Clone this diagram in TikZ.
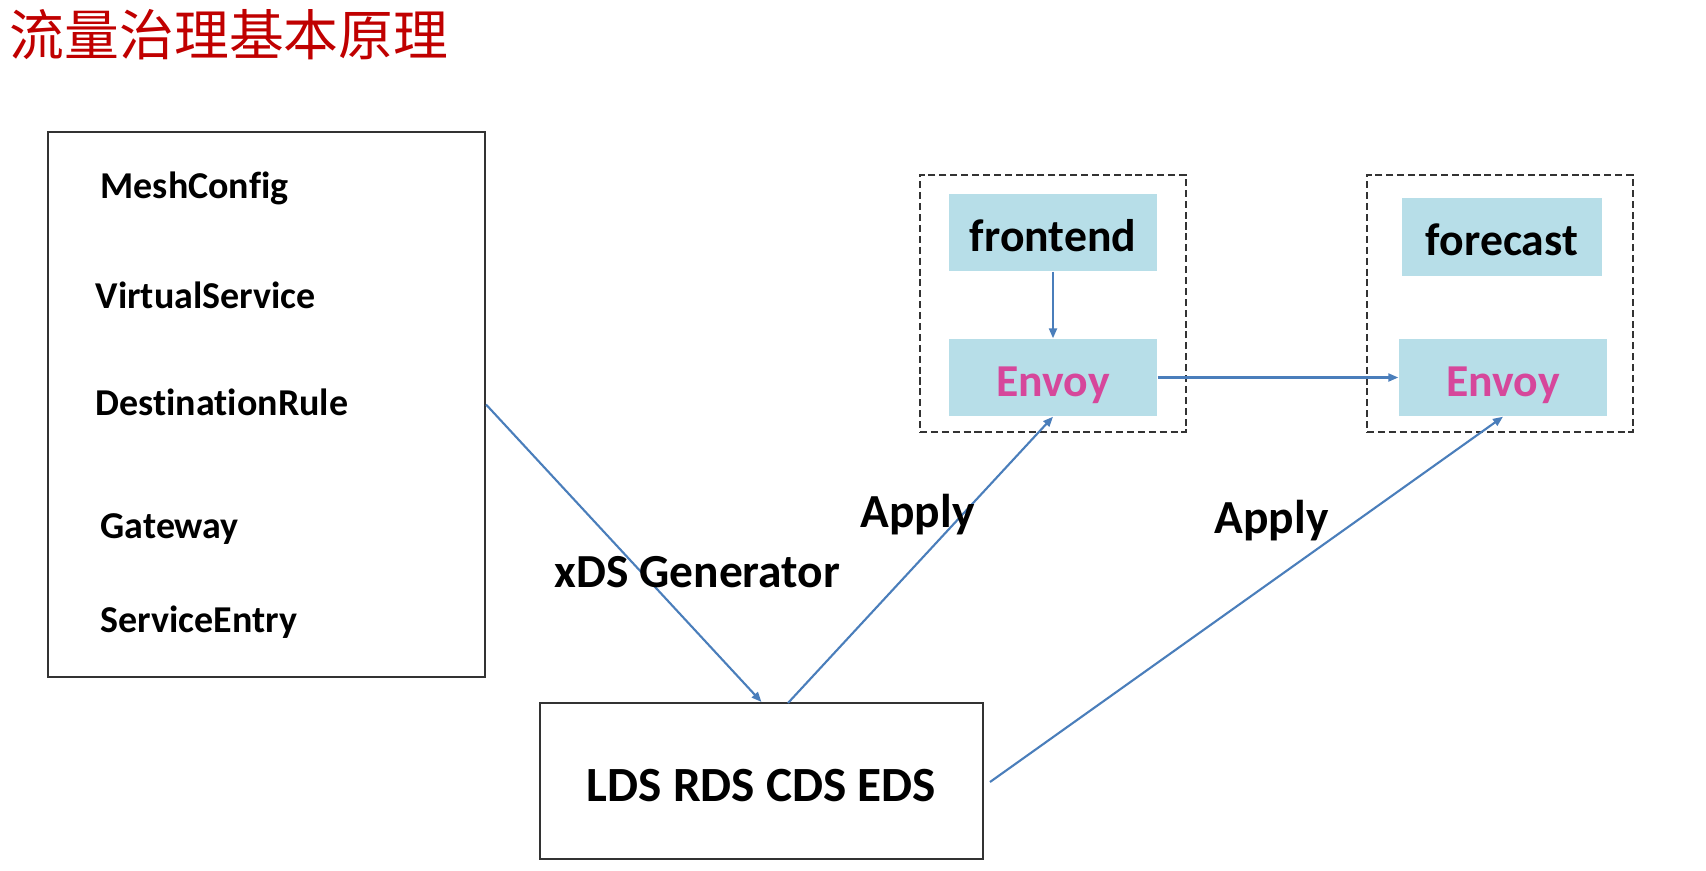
\documentclass[tikz,border=0pt]{standalone}
\usepackage{fontspec}
\setmainfont{Carlito}[Ligatures={NoCommon,NoRare}]
\newfontfamily\cjk{Noto Sans CJK SC}
\usepackage{xcolor}
\usepackage{tikz}
\usetikzlibrary{arrows.meta}

\definecolor{titlered}{HTML}{C00000}
\definecolor{podblue}{HTML}{B7DEE8}
\definecolor{envoypink}{HTML}{D6479B}
\definecolor{linkblue}{HTML}{4A7EBB}

\begin{document}
\begin{tikzpicture}[x=0.1mm, y=-0.1mm,
			box/.style = {draw=black!80, line width=0.6pt, inner sep=0pt},
			pod/.style = {draw=black!80, dash pattern=on 2pt off 1.1pt, line width=0.6pt, inner sep=0pt, minimum width=26.6mm, minimum height=25.7mm},
			svc/.style = {fill=podblue, inner sep=0pt, minimum width=20.8mm, minimum height=7.7mm, text height=3.7mm, text depth=0pt, font=\fontsize{13}{15}\selectfont\bfseries},
			item/.style = {anchor=base west, inner sep=0pt, font=\fontsize{10.8}{13}\selectfont\bfseries},
			tag/.style = {anchor=base west, inner sep=0pt, font=\fontsize{13.5}{16}\selectfont\bfseries}]
			
			\useasboundingbox (0,0) rectangle (1706,870);
			
			\node [anchor=base west, inner sep=0pt, text=titlered, font=\cjk\fontsize{15.6}{18}\selectfont] (title) at (9,55) {流量治理基本原理};
			
			% istio config
			\node [box, minimum width=43.7mm, minimum height=54.5mm] (config) at (266.5,404.5) {};
			\node [item] (meshconfig) at (100,198) {MeshConfig};
			\node [item] (virtualservice) at (95,308) {VirtualService};
			\node [item] (destinationrule) at (95,415) {DestinationRule};
			\node [item] (gateway) at (100,538) {Gateway};
			\node [item] (serviceentry) at (100,632) {ServiceEntry};
			
			% xDS
			\node [box, minimum width=44.3mm, minimum height=15.6mm, text height=4mm, text depth=0pt, font=\fontsize{14}{17}\selectfont\bfseries] (xds) at (761.5,781) {LDS RDS CDS EDS};
			
			% pods
			\node [pod] (podA) at (1053,303.5) {};
			\node [pod] (podB) at (1500,303.5) {};
			\node [svc] (frontend) at (1053,232.5) {frontend};
			\node [svc, text=envoypink] (envoyA) at (1053,377.5) {Envoy};
			\node [svc, minimum width=20mm, minimum height=7.8mm] (forecast) at (1502,237) {forecast};
			\node [svc, text=envoypink] (envoyB) at (1503,377.5) {Envoy};
			
			\coordinate (applyA) at (788,703);
			\coordinate (applyB) at (990,782);
			
			\begin{scope}[draw=linkblue, line width=0.6pt, -{Triangle[length=1mm, width=0.8mm]}]
				\draw (frontend) -- (envoyA);
				\draw (envoyA) -- (envoyB);
				\draw (config.east) -- (xds.north);
				\draw (applyA) -- (envoyA.south);
				\draw (applyB) -- (envoyB.south);
			\end{scope}
			
			\node [tag] (generator) at (554,587) {xDS Generator};
			\node [tag] (applyTagA) at (860,527) {Apply};
			\node [tag] (applyTagB) at (1214,533) {Apply};
		\end{tikzpicture}
\end{document}
